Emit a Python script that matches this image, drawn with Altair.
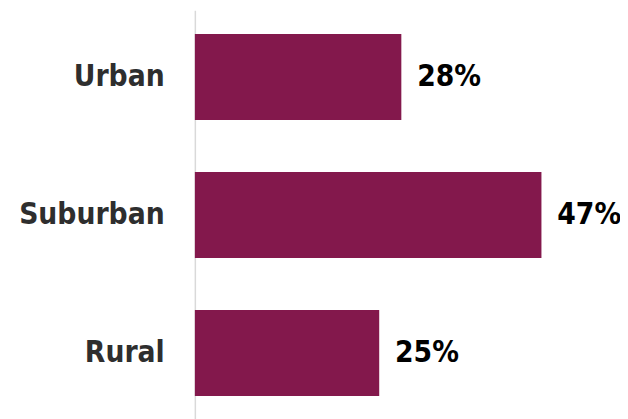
import altair as alt
import pandas as pd

categories = ["Urban", "Suburban", "Rural"]
values = [28, 47, 25]
labels = ["28%", "47%", "25%"]

df = pd.DataFrame({"cat": categories, "val": values, "lab": labels})

FONT = "DejaVu Sans Condensed"

y_enc = alt.Y(
    "cat:N",
    sort=categories,
    title=None,
    scale=alt.Scale(paddingInner=0.376, paddingOuter=0.172),
    axis=alt.Axis(
        labelFont=FONT,
        labelFontWeight="bold",
        labelFontSize=30,
        labelColor="#2e2e2e",
        labelPadding=31,
        ticks=False,
        domainColor="#d9d9d9",
        domainWidth=1.5,
        grid=False,
    ),
)
x_enc = alt.X(
    "val:Q",
    scale=alt.Scale(domain=[0, 48], nice=False),
    axis=None,
)

bars = alt.Chart(df).mark_bar(color="#83184C").encode(y=y_enc, x=x_enc)
text = alt.Chart(df).mark_text(
    align="left", baseline="middle", dx=16,
    font=FONT, fontWeight="bold", fontSize=30, color="#000000"
).encode(y=alt.Y("cat:N", sort=categories), x="val:Q", text="lab:N")

chart = (bars + text).properties(
    width=358, height=414,
    autosize=alt.AutoSizeParams(type="none"),
    padding={"left": 189, "top": 0, "right": 72, "bottom": 0},
).configure_view(stroke=None)

chart.save("out.html", embed_options={"renderer": "svg", "actions": False})
